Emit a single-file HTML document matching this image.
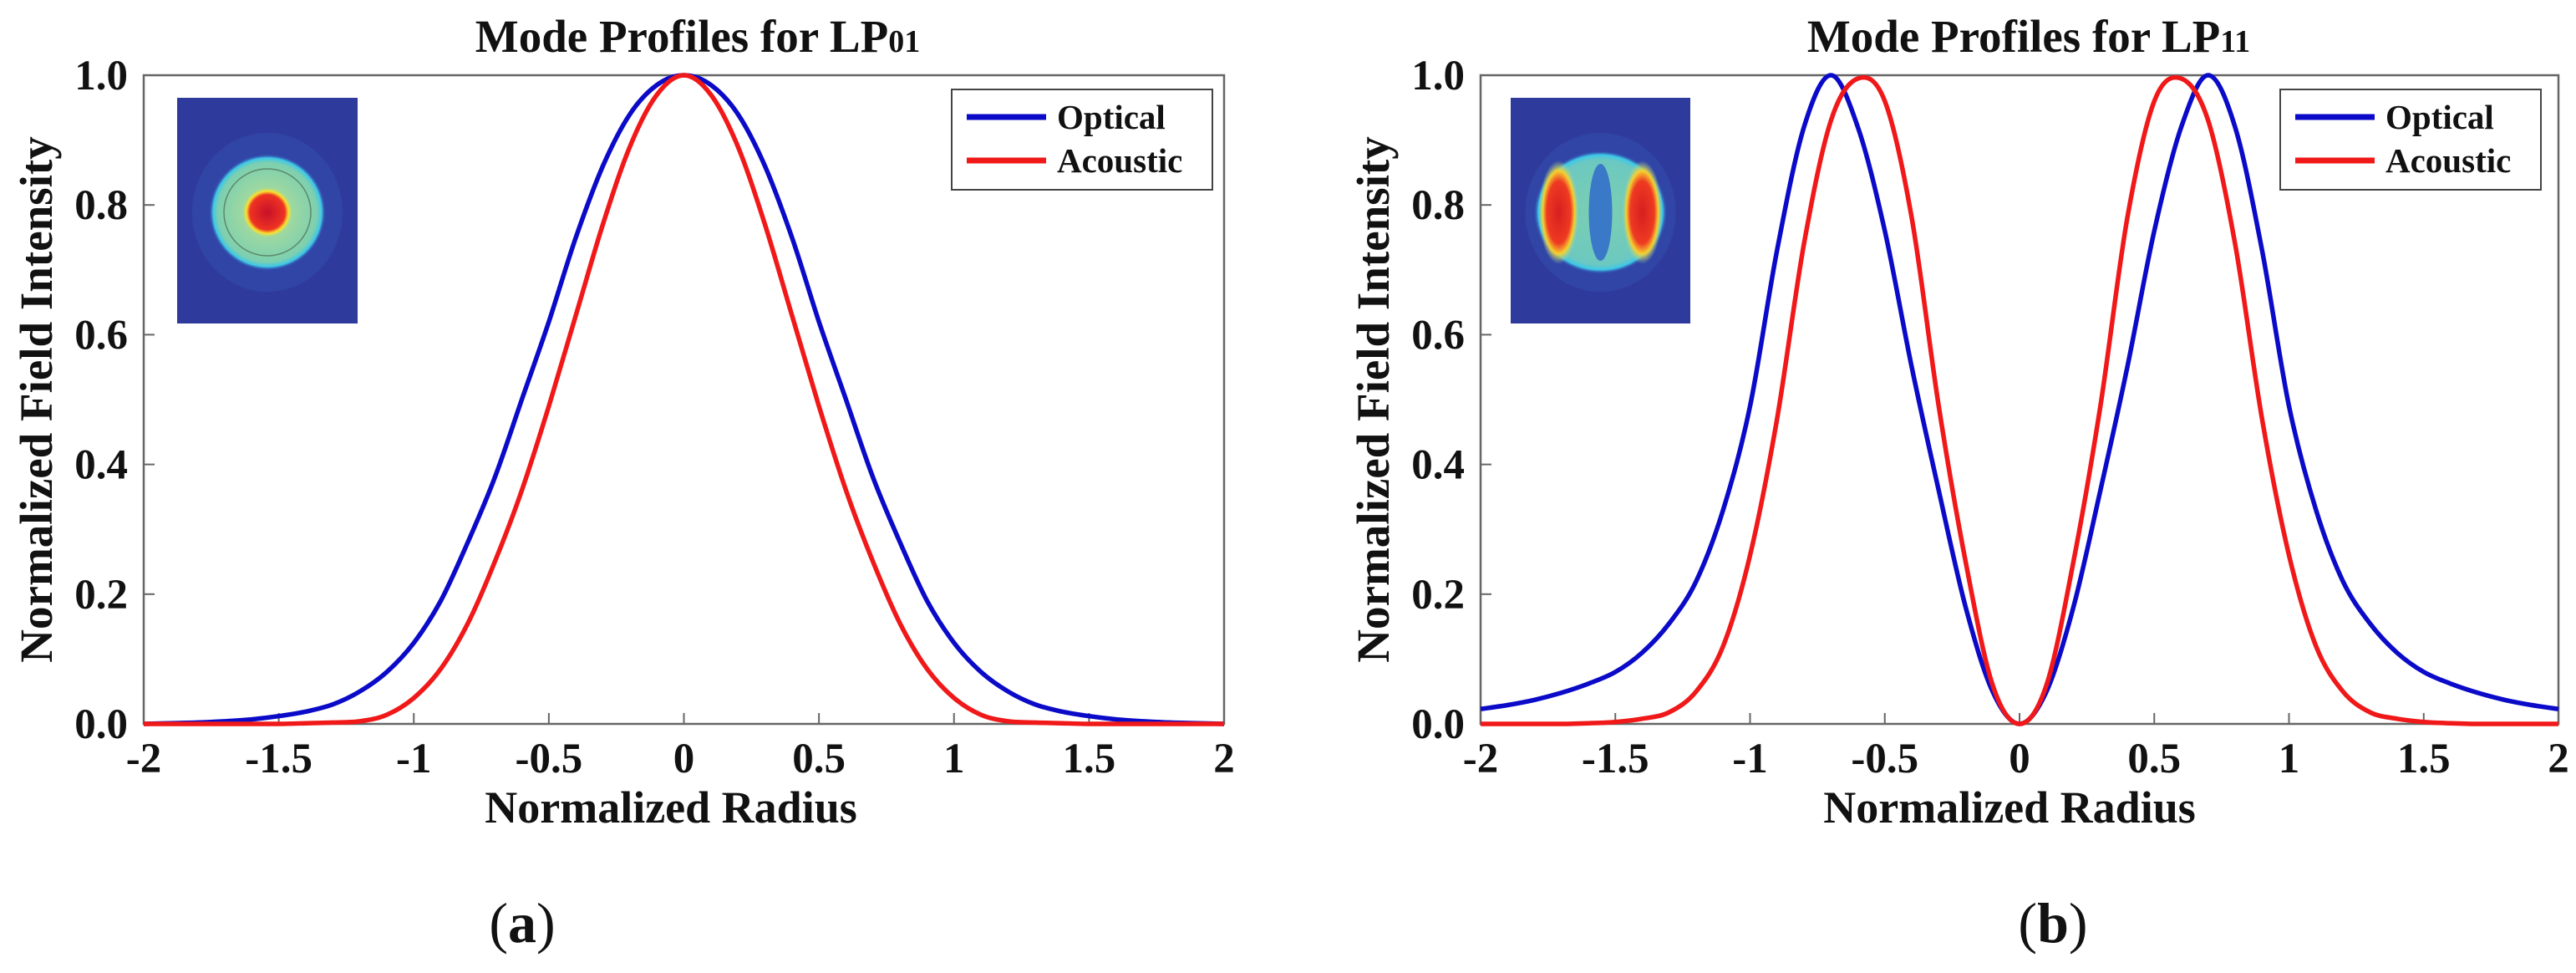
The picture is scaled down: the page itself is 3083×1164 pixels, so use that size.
<!DOCTYPE html>
<html><head><meta charset="utf-8">
<style>
html,body{margin:0;padding:0;background:#fff;}
svg{display:block;}
text{font-family:"Liberation Serif",serif;font-weight:bold;fill:#111;}
</style></head>
<body>
<svg id="fig" width="3083" height="1164" viewBox="0 0 3083 1164" xmlns="http://www.w3.org/2000/svg">
<defs>
<radialGradient id="g01" cx="0.5" cy="0.5" r="0.5">
<stop offset="0" stop-color="#c8102a"/>
<stop offset="0.3" stop-color="#ee3322"/>
<stop offset="0.36" stop-color="#f7e030"/>
<stop offset="0.42" stop-color="#9ed8a0"/>
<stop offset="0.85" stop-color="#7ccfb0"/>
<stop offset="0.93" stop-color="#3ec8e8"/>
<stop offset="1" stop-color="#2f3fa8" stop-opacity="0"/>
</radialGradient>
<radialGradient id="g11" cx="0.5" cy="0.5" r="0.5">
<stop offset="0" stop-color="#7ccfb0"/>
<stop offset="0.85" stop-color="#6cc8c0"/>
<stop offset="0.93" stop-color="#3ec8e8"/>
<stop offset="1" stop-color="#2f3fa8" stop-opacity="0"/>
</radialGradient>
<radialGradient id="lobe" cx="0.5" cy="0.5" r="0.5">
<stop offset="0" stop-color="#d81e20"/>
<stop offset="0.6" stop-color="#ee3a22"/>
<stop offset="0.8" stop-color="#f5d030"/>
<stop offset="1" stop-color="#9ed8a0" stop-opacity="0"/>
</radialGradient>
</defs>
<g id="layer"></g>
</svg>
<script>
// ---- data ----
const xs = [-2,-1.9,-1.8,-1.7,-1.6,-1.5,-1.4,-1.3,-1.2,-1.1,-1,-0.9,-0.8,-0.7,-0.6,-0.5,-0.4,-0.3,-0.2,-0.1,0,0.1,0.2,0.3,0.4,0.5,0.6,0.7,0.8,0.9,1,1.1,1.2,1.3,1.4,1.5,1.6,1.7,1.8,1.9,2];
const lp01Optical = [0,0.001,0.002,0.004,0.007,0.012,0.019,0.03,0.05,0.08,0.125,0.19,0.28,0.38,0.50,0.62,0.75,0.86,0.94,0.985,1,0.985,0.94,0.86,0.75,0.62,0.50,0.38,0.28,0.19,0.125,0.08,0.05,0.03,0.019,0.012,0.007,0.004,0.002,0.001,0];
const lp01Acoustic = [0,0,0,0,0,0,0.001,0.002,0.004,0.014,0.04,0.085,0.155,0.25,0.36,0.49,0.63,0.77,0.89,0.97,1,0.97,0.89,0.77,0.63,0.49,0.36,0.25,0.155,0.085,0.04,0.014,0.004,0.002,0.001,0,0,0,0,0,0];
const lp11Optical = [0.023,0.029,0.037,0.048,0.062,0.08,0.11,0.155,0.22,0.33,0.49,0.73,0.92,1.0,0.92,0.76,0.55,0.36,0.18,0.05,0,0.05,0.18,0.36,0.55,0.76,0.92,1.0,0.92,0.73,0.49,0.33,0.22,0.155,0.11,0.08,0.062,0.048,0.037,0.029,0.023];
const lp11Acoustic = [0,0,0,0,0.001,0.003,0.008,0.018,0.05,0.12,0.26,0.47,0.74,0.93,0.995,0.96,0.78,0.49,0.25,0.06,0,0.06,0.25,0.49,0.78,0.96,0.995,0.93,0.74,0.47,0.26,0.12,0.05,0.018,0.008,0.003,0.001,0,0,0,0];
const xTicks = [-2,-1.5,-1,-0.5,0,0.5,1,1.5,2];
const xTickLabels = ["-2","-1.5","-1","-0.5","0","0.5","1","1.5","2"];
const yTicks = [0,0.2,0.4,0.6,0.8,1.0];
const yTickLabels = ["0.0","0.2","0.4","0.6","0.8","1.0"];
const seriesNames = ["Optical","Acoustic"];

const NS = "http://www.w3.org/2000/svg";
const layer = document.getElementById('layer');
function mk(tag, attrs, parent){
  const e = document.createElementNS(NS, tag);
  for (const k in attrs) e.setAttribute(k, attrs[k]);
  (parent||layer).appendChild(e);
  return e;
}
function smoothPath(pts){
  let d = "M"+pts[0][0].toFixed(1)+","+pts[0][1].toFixed(1);
  for (let i=0;i<pts.length-1;i++){
    const p0=pts[Math.max(0,i-1)],p1=pts[i],p2=pts[i+1],p3=pts[Math.min(pts.length-1,i+2)];
    const c1=[p1[0]+(p2[0]-p0[0])/6,p1[1]+(p2[1]-p0[1])/6];
    const c2=[p2[0]-(p3[0]-p1[0])/6,p2[1]-(p3[1]-p1[1])/6];
    d+="C"+c1[0].toFixed(1)+","+c1[1].toFixed(1)+" "+c2[0].toFixed(1)+","+c2[1].toFixed(1)+" "+p2[0].toFixed(1)+","+p2[1].toFixed(1);
  }
  return d;
}

function panel(cfg){
  const g = mk('g',{});
  
  
  const L=cfg.left,R=cfg.right,T=90,B=866;
  const sx = v => L + (v+2)/4*(R-L);
  const sy = v => B - v*(B-T);
  // inset
  const ins = mk('g',{},g);
  
  
  mk('rect',{x:cfg.inset[0],y:117,width:cfg.inset[1],height:270,fill:'#2f3b9c'},ins);
  const cx=cfg.inset[0]+cfg.inset[1]/2, cy=254;
  mk('ellipse',{cx:cx,cy:cy,rx:90,ry:95,fill:'#3455b8',opacity:0.4},ins);
  if(cfg.mode==='01'){
    mk('circle',{cx:cx,cy:cy,r:70,fill:'url(#g01)'},ins);
    mk('circle',{cx:cx,cy:cy,r:52,fill:'none',stroke:'#4a6a50','stroke-width':1.5,opacity:0.7},ins);
  } else {
    mk('ellipse',{cx:cx,cy:cy,rx:80,ry:74,fill:'url(#g11)'},ins);
    mk('ellipse',{cx:cx-50,cy:cy,rx:24,ry:62,fill:'url(#lobe)'},ins);
    mk('ellipse',{cx:cx+50,cy:cy,rx:24,ry:62,fill:'url(#lobe)'},ins);
    mk('ellipse',{cx:cx,cy:cy,rx:14,ry:58,fill:'#3a78c8'},ins);
  }
  // axes box
  const box = mk('rect',{x:L,y:T,width:R-L,height:B-T,fill:'none',stroke:'#666','stroke-width':2.5},g);
  
  
  // ticks
  xTicks.forEach((t,i)=>{
    mk('line',{x1:sx(t),x2:sx(t),y1:B,y2:B-13,stroke:'#666','stroke-width':2},g);
    const tx = mk('text',{x:sx(t),y:924,'font-size':51,'text-anchor':'middle'},g);
    tx.textContent = xTickLabels[i];
    
    
  });
  yTicks.forEach((t,i)=>{
    mk('line',{x1:L,x2:L+13,y1:sy(t),y2:sy(t),stroke:'#666','stroke-width':2},g);
    const ty = mk('text',{x:L-19,y:sy(t)+17,'font-size':51,'text-anchor':'end'},g);
    ty.textContent = yTickLabels[i];
    
    
  });
  // series
  const series=[[cfg.opt,'#0a0ac8','optical'],[cfg.ac,'#f01818','acoustic']];
  series.forEach(s=>{
    const pts = xs.map((x,i)=>[sx(x),sy(s[0][i])]);
    const p = mk('path',{d:smoothPath(pts),fill:'none',stroke:s[1],'stroke-width':5.5,'stroke-linejoin':'round'},g);
    
    
  });
  // legend
  const lg = mk('g',{},g);
  
  
  const lx = cfg.legendX;
  mk('rect',{x:lx,y:107,width:312,height:120,fill:'#fff',stroke:'#444','stroke-width':2},lg);
  [['#0a0ac8',140,seriesNames[0]],['#f01818',192,seriesNames[1]]].forEach(e=>{
    const en = mk('g',{},lg);
    
    
    mk('line',{x1:lx+18,x2:lx+113,y1:e[1],y2:e[1],stroke:e[0],'stroke-width':7},en);
    const t = mk('text',{x:lx+126,y:e[1]+14,'font-size':41},en);
    t.textContent = e[2];
  });
  // title
  const tt = mk('text',{x:cfg.titleX,y:62,'font-size':55,'text-anchor':'middle'},g);
  
  
  tt.textContent = 'Mode Profiles for LP';
  const sub = mk('tspan',{'font-size':38},tt);
  sub.textContent = cfg.mode;
  // axis titles
  const xt = mk('text',{x:cfg.xTitleX,y:984,'font-size':54,'text-anchor':'middle'},g);
  xt.textContent='Normalized Radius';
  
  
  const yt = mk('text',{x:0,y:0,'font-size':55,'text-anchor':'middle',transform:'translate('+(cfg.yTitleX)+',478) rotate(-90)'},g);
  yt.textContent='Normalized Field Intensity';
  
  
  // panel label
  const pl = mk('text',{x:cfg.labelX,y:1127,'font-size':68,'text-anchor':'middle'},g);
  
  
  const a1=mk('tspan',{'font-weight':'normal'},pl); a1.textContent='(';
  const a2=mk('tspan',{},pl); a2.textContent=cfg.letter;
  const a3=mk('tspan',{'font-weight':'normal'},pl); a3.textContent=')';
}
panel({id:'lp01',left:172,right:1465,inset:[212,216],mode:'01',opt:lp01Optical,ac:lp01Acoustic,legendX:1139,titleX:835,xTitleX:803,yTitleX:62,labelX:625,letter:'a'});
panel({id:'lp11',left:1772,right:3062,inset:[1808,215],mode:'11',opt:lp11Optical,ac:lp11Acoustic,legendX:2729,titleX:2428,xTitleX:2405,yTitleX:1662,labelX:2457,letter:'b'});
</script>
</body></html>
